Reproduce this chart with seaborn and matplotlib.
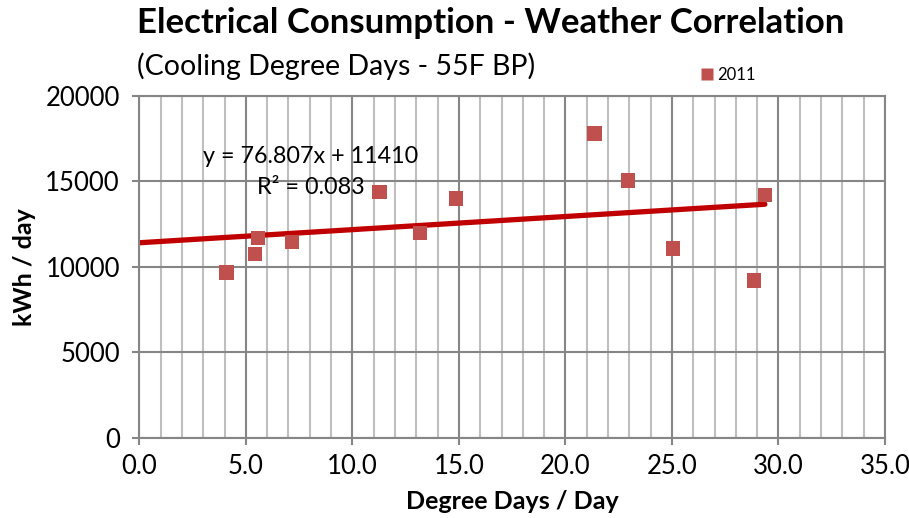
import matplotlib
matplotlib.use("Agg")
import matplotlib.pyplot as plt
from matplotlib.ticker import MultipleLocator, FormatStrFormatter
import seaborn as sns
import pandas as pd
import numpy as np

# Data
degree_days = [4.10, 5.43, 5.57, 7.17, 11.27, 13.18, 14.87, 21.36, 22.94, 25.04, 28.85, 29.36]
kwh_per_day = [9680, 10740, 11680, 11460, 14370, 11970, 14000, 17820, 15050, 11070, 9190, 14210]
series_name = "2011"
trend_slope = 76.807
trend_intercept = 11410
trend_label = "y = 76.807x + 11410\nR² = 0.083"

df = pd.DataFrame({"x": degree_days, "y": kwh_per_day, "series": series_name})
trend_x = [0.0, max(degree_days)]
trend_df = pd.DataFrame({"x": trend_x,
                         "y": [trend_slope * v + trend_intercept for v in trend_x]})

sns.set_theme(style="white")
plt.rcParams['font.family'] = ['Lato', 'DejaVu Sans']
plt.rcParams['text.color'] = 'black'
plt.rcParams['axes.labelcolor'] = 'black'

fig = plt.figure(figsize=(9.09, 5.18), dpi=100)
ax = fig.add_axes([0.1533, 0.155, 0.8203, 0.6597])

major_c = "#868686"
minor_c = "#BFBFBF"

ax.set_xlim(0, 35)
ax.set_ylim(0, 20000)
ax.xaxis.set_major_locator(MultipleLocator(5))
ax.xaxis.set_minor_locator(MultipleLocator(1))
ax.yaxis.set_major_locator(MultipleLocator(5000))
ax.xaxis.set_major_formatter(FormatStrFormatter("%.1f"))
ax.grid(True, which="major", axis="both", color=major_c, linewidth=1.5, zorder=0)
ax.grid(True, which="minor", axis="x", color=minor_c, linewidth=1.5, zorder=0)
ax.set_axisbelow(True)
for s in ax.spines.values():
    s.set_color(major_c)
    s.set_linewidth(1.5)

sns.lineplot(data=trend_df, x="x", y="y", ax=ax, color="#C00000", linewidth=3.8,
             solid_capstyle="round", zorder=2, legend=False)
sns.scatterplot(data=df, x="x", y="y", hue="series", palette=["#C0504D"], marker="s",
                s=110, edgecolor="none", ax=ax, zorder=3)

ax.tick_params(axis="both", which="major", labelsize=18.5, labelcolor="black",
               length=5, width=1.5, color=major_c, direction="out", bottom=True, left=True)
ax.tick_params(axis="x", which="minor", length=0)
ax.tick_params(axis="x", pad=7)
ax.tick_params(axis="y", pad=9)

ax.set_xlabel("Degree Days / Day", fontsize=18, fontweight="bold", labelpad=8)
ax.set_ylabel("kWh / day", fontsize=18, fontweight="bold", labelpad=7)

ax.text(8.06, 15560, trend_label, ha="center", va="center", fontsize=16.8,
        linespacing=1.55, zorder=4)

leg = ax.legend(loc="center left", bbox_to_anchor=(0.752, 1.0615), frameon=False,
                fontsize=12, handlelength=0.8, handletextpad=0.2, borderpad=0,
                borderaxespad=0, markerscale=0.85)

fig.text(0.151, 0.955, "Electrical Consumption - Weather Correlation",
         fontsize=25, fontweight="bold", ha="left", va="center")
fig.text(0.151, 0.872, "(Cooling Degree Days - 55F BP)",
         fontsize=20.5, ha="left", va="center")

fig.savefig("out.png", dpi=100)
